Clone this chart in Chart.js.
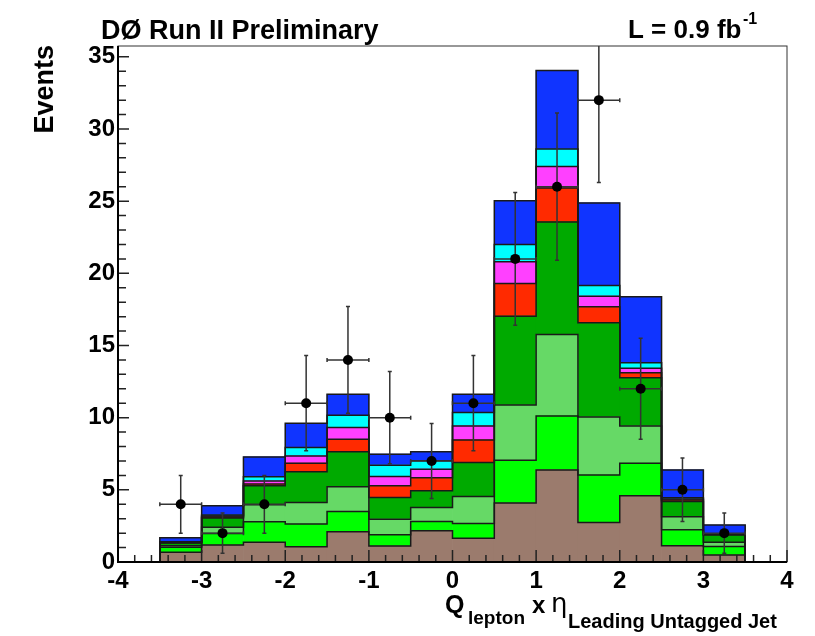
<!DOCTYPE html>
<html>
<head>
<meta charset="utf-8">
<script src="https://cdn.jsdelivr.net/npm/chart.js@4.4.1/dist/chart.umd.min.js"></script>
<style>
  html, body { margin: 0; padding: 0; background: #fff; }
</style>
</head>
<body>
<canvas id="chart" width="815" height="636"></canvas>
<script>
// bin centres of the Q x eta histogram (bin width 0.5)
const binCenters = [-3.25, -2.75, -2.25, -1.75, -1.25, -0.75, -0.25, 0.25, 0.75, 1.25, 1.75, 2.25, 2.75, 3.25];
const binHalfWidth = 0.25;

// stacked background contributions, bottom to top
const brownBkg     = [0.67, 1.17, 1.36, 1.06, 2.10, 1.10, 2.17, 1.64, 4.08, 6.38, 2.74, 4.59, 1.13, 0.48];
const greenBkg     = [0.35, 0.81, 1.43, 1.57, 1.40, 0.79, 0.64, 1.03, 2.97, 3.74, 3.28, 2.26, 1.10, 0.60];
const lightGreenBkg= [0.10, 0.42, 1.17, 1.50, 1.71, 1.08, 0.97, 1.87, 3.83, 5.65, 4.03, 2.58, 0.90, 0.28];
const darkGreenBkg = [0.19, 0.64, 1.32, 2.12, 2.42, 1.50, 1.15, 2.35, 6.15, 7.79, 6.53, 3.34, 1.06, 0.51];
const redBkg       = [0.03, 0.08, 0.12, 0.60, 0.87, 0.81, 0.90, 1.57, 2.27, 2.35, 1.10, 0.35, 0.11, 0.03];
const magentaBkg   = [0.03, 0.06, 0.22, 0.50, 0.81, 0.65, 0.60, 0.97, 1.50, 1.50, 0.74, 0.30, 0.06, 0.03];
const cyanBkg      = [0.04, 0.07, 0.28, 0.58, 0.86, 0.78, 0.58, 0.92, 1.19, 1.20, 0.74, 0.39, 0.09, 0.03];
const blueBkg      = [0.27, 0.65, 1.38, 1.68, 1.45, 0.76, 0.62, 1.27, 3.04, 5.44, 5.72, 4.56, 1.93, 0.60];

// observed data with statistical errors
const dataCounts = [4, 2, 4, 11, 14, 10, 7, 11, 21, 26, 32, 12, 5, 2];
const dataErrors = [2.0, 1.4, 2.0, 3.3, 3.7, 3.2, 2.6, 3.3, 4.6, 5.1, 5.7, 3.5, 2.2, 1.4];

const xTickLabels = [-4, -3, -2, -1, 0, 1, 2, 3, 4];
const yTickLabels = [0, 5, 10, 15, 20, 25, 30, 35];

const FONT = '"Liberation Sans", Arial, Helvetica, sans-serif';

const layers = [
  [brownBkg, '#9b7b6d'],
  [greenBkg, '#00ff00'],
  [lightGreenBkg, '#66d966'],
  [darkGreenBkg, '#00aa00'],
  [redBkg, '#ff2a00'],
  [magentaBkg, '#ff40ff'],
  [cyanBkg, '#00ffff'],
  [blueBkg, '#1034ff']
];

function points(vals) {
  return binCenters.map((x, i) => ({x: x, y: vals[i]}));
}

let datasets = [{
  type: 'scatter',
  data: points(dataCounts),
  stack: 'data',
  pointRadius: 5,
  pointHoverRadius: 5,
  backgroundColor: '#000',
  borderWidth: 0,
  showLine: false
}];
layers.forEach(([vals, col]) => {
  datasets.push({
    type: 'bar',
    data: points(vals),
    stack: 'mc',
    backgroundColor: col,
    borderWidth: 0,
    barPercentage: 1,
    categoryPercentage: 1
  });
});

// step outlines of the stack plus data error bars, drawn just before the markers
const histOutline = {
  id: 'histOutline',
  beforeDatasetDraw(chart, args) {
    if (args.index !== 0) return;
    const {ctx, chartArea: a, scales: {x, y}} = chart;
    ctx.save();
    ctx.beginPath();
    ctx.rect(a.left, a.top, a.right - a.left, a.bottom - a.top);
    ctx.clip();
    ctx.strokeStyle = '#1a1a1a';
    ctx.lineWidth = 1.5;
    const y0 = y.getPixelForValue(0);
    for (let d = 1; d < chart.data.datasets.length; d++) {
      const bars = chart.getDatasetMeta(d).data;
      ctx.beginPath();
      bars.forEach((b, i) => {
        const l = b.x - b.width / 2, r = b.x + b.width / 2;
        if (i === 0) ctx.moveTo(l, y0);
        ctx.lineTo(l, b.y);
        ctx.lineTo(r, b.y);
      });
      const last = bars[bars.length - 1];
      ctx.lineTo(last.x + last.width / 2, y0);
      ctx.stroke();
    }

    ctx.strokeStyle = '#333';
    ctx.lineWidth = 1.5;
    binCenters.forEach((c, i) => {
      const cx = x.getPixelForValue(c);
      const cy = y.getPixelForValue(dataCounts[i]);
      const lo = y.getPixelForValue(dataCounts[i] - dataErrors[i]);
      const hi = y.getPixelForValue(dataCounts[i] + dataErrors[i]);
      const xl = x.getPixelForValue(c - binHalfWidth);
      const xr = x.getPixelForValue(c + binHalfWidth);
      ctx.beginPath();
      ctx.moveTo(cx, lo); ctx.lineTo(cx, hi);
      ctx.moveTo(cx - 2, lo); ctx.lineTo(cx + 2, lo);
      ctx.moveTo(cx - 2, hi); ctx.lineTo(cx + 2, hi);
      ctx.moveTo(xl, cy); ctx.lineTo(xr, cy);
      ctx.moveTo(xl, cy - 2); ctx.lineTo(xl, cy + 2);
      ctx.moveTo(xr, cy - 2); ctx.lineTo(xr, cy + 2);
      ctx.stroke();
    });
    ctx.restore();
  }
};

// ROOT style frame, inward ticks and texts
const rootFrame = {
  id: 'rootFrame',
  afterDraw(chart) {
    const {ctx, chartArea: a, scales: {x, y}} = chart;
    ctx.save();
    ctx.strokeStyle = '#222';
    ctx.lineWidth = 1.5;
    ctx.beginPath();
    for (let k = 0; k <= 40; k++) {
      const px = x.getPixelForValue(-4 + k * 0.2);
      const len = k % 5 === 0 ? 12 : 7;
      ctx.moveTo(px, a.bottom); ctx.lineTo(px, a.bottom - len);
    }
    for (let v = 0; v <= 35; v++) {
      const py = y.getPixelForValue(v);
      const len = v % 5 === 0 ? 11 : 8;
      ctx.moveTo(a.left, py); ctx.lineTo(a.left + len, py);
    }
    ctx.stroke();

    ctx.strokeStyle = '#333';
    ctx.lineWidth = 1;
    ctx.strokeRect(a.left, a.top, a.right - a.left, a.bottom - a.top);
    ctx.strokeStyle = '#000';
    ctx.lineWidth = 2;
    ctx.beginPath();
    ctx.moveTo(a.left, a.top); ctx.lineTo(a.left, a.bottom); ctx.lineTo(a.right, a.bottom);
    ctx.stroke();

    ctx.fillStyle = '#000';
    ctx.textBaseline = 'alphabetic';
    ctx.textAlign = 'left';
    ctx.font = 'bold 27px ' + FONT;
    ctx.fillText('DØ Run II Preliminary', 101, 39);
    ctx.font = 'bold 26px ' + FONT;
    ctx.fillText('L = 0.9 fb', 628, 38);
    ctx.font = 'bold 16px ' + FONT;
    ctx.fillText('-1', 743, 24);

    // x axis title
    ctx.font = 'bold 25px ' + FONT;
    ctx.fillText('Q', 445, 613);
    ctx.font = 'bold 19px ' + FONT;
    ctx.fillText('lepton', 468, 624);
    ctx.font = 'bold 24px ' + FONT;
    ctx.fillText('x', 532, 613);
    ctx.font = '26px "DejaVu Sans", ' + FONT;
    ctx.fillText('η', 551, 612);
    ctx.font = 'bold 20px ' + FONT;
    ctx.fillText('Leading Untagged Jet', 568, 628);

    // y axis title
    ctx.translate(53, 45);
    ctx.rotate(-Math.PI / 2);
    ctx.textAlign = 'right';
    ctx.font = 'bold 27px ' + FONT;
    ctx.fillText('Events', 0, 0);
    ctx.restore();
  }
};

new Chart(document.getElementById('chart'), {
  type: 'bar',
  data: {datasets: datasets},
  options: {
    responsive: false,
    animation: false,
    layout: {padding: {left: 0, right: 28, top: 46, bottom: 0}},
    plugins: {legend: {display: false}, tooltip: {enabled: false}, title: {display: false}},
    scales: {
      x: {
        type: 'linear', min: -4, max: 4, stacked: true, offset: false,
        grid: {display: false, drawTicks: false}, border: {display: false},
        ticks: {
          stepSize: 1, autoSkip: false, maxRotation: 0, padding: 5, color: '#000',
          font: {family: FONT, size: 24, weight: 'bold'},
          callback: v => xTickLabels.includes(v) ? String(v) : ''
        },
        afterFit: s => { s.height = 74; }
      },
      y: {
        min: 0, max: 35.75, stacked: true,
        grid: {display: false, drawTicks: false}, border: {display: false},
        ticks: {
          stepSize: 5, includeBounds: false, padding: 3, color: '#000',
          font: {family: FONT, size: 24, weight: 'bold'},
          callback: v => yTickLabels.includes(v) ? String(v) : ''
        },
        afterFit: s => { s.width = 118; }
      }
    }
  },
  plugins: [histOutline, rootFrame]
});
</script>
</body>
</html>
